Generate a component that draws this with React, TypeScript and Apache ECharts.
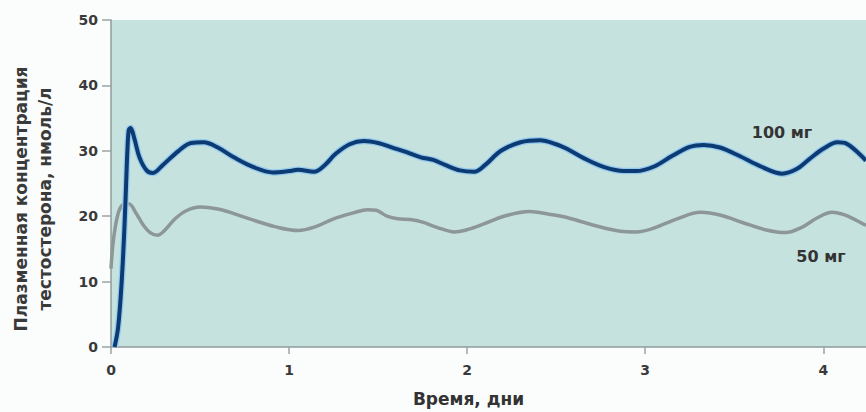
import React, { useEffect, useRef } from "react";
import * as echarts from "echarts";

const xTicks = [0, 1, 2, 3, 4];
const yTicks = [0, 10, 20, 30, 40, 50];
const seriesNames = ["100 мг", "50 мг"];

const dose100: [number, number][] = [
  [0.02, 0], [0.04, 3], [0.06, 10], [0.075, 18], [0.085, 25], [0.092, 30], [0.1, 33.2], [0.11, 33.5],
  [0.13, 32], [0.16, 29], [0.2, 27], [0.235, 26.6], [0.29, 27.8], [0.38, 30], [0.45, 31.2], [0.52, 31.3],
  [0.6, 30.5], [0.69, 29], [0.8, 27.5], [0.91, 26.7], [1.0, 26.9], [1.05, 27.1], [1.14, 26.8], [1.2, 27.8],
  [1.26, 29.5], [1.34, 31], [1.42, 31.5], [1.5, 31.2], [1.58, 30.5], [1.66, 29.8], [1.74, 29], [1.81, 28.6],
  [1.88, 27.8], [1.96, 27], [2.04, 26.8], [2.1, 27.8], [2.19, 30], [2.3, 31.3], [2.41, 31.6], [2.5, 31],
  [2.56, 30.3], [2.66, 28.8], [2.77, 27.5], [2.88, 26.9], [2.95, 26.9], [3.05, 27.6], [3.15, 29.2],
  [3.25, 30.6], [3.33, 30.9], [3.42, 30.5], [3.53, 29.2], [3.65, 27.6], [3.77, 26.5], [3.85, 27.2],
  [3.92, 28.7], [4.0, 30.3], [4.08, 31.3], [4.13, 31.1], [4.2, 29.6], [4.24, 28.5],
];

const dose50: [number, number][] = [
  [0, 12], [0.01, 15.5], [0.025, 18.5], [0.045, 20.8], [0.07, 21.8], [0.1, 21.9], [0.14, 20.5],
  [0.18, 18.7], [0.22, 17.5], [0.26, 17.1], [0.3, 17.8], [0.36, 19.6], [0.42, 20.8], [0.5, 21.4],
  [0.6, 21.1], [0.69, 20.4], [0.8, 19.4], [0.92, 18.4], [1.05, 17.8], [1.15, 18.4], [1.25, 19.6],
  [1.36, 20.5], [1.44, 21.0], [1.49, 20.9], [1.55, 20.0], [1.61, 19.6], [1.68, 19.5], [1.75, 19.1],
  [1.83, 18.3], [1.93, 17.6], [2.02, 18.1], [2.11, 19.0], [2.22, 20.1], [2.35, 20.7], [2.46, 20.3],
  [2.56, 19.8], [2.7, 18.7], [2.86, 17.7], [2.95, 17.6], [3.05, 18.2], [3.18, 19.6], [3.31, 20.6],
  [3.43, 20.1], [3.55, 19.0], [3.68, 17.9], [3.79, 17.5], [3.88, 18.3], [3.97, 19.8], [4.05, 20.6],
  [4.12, 20.2], [4.19, 19.3], [4.24, 18.6],
];

const FONT = "'DejaVu Sans', 'Open Sans', sans-serif";

export default function App() {
  const ref = useRef<HTMLDivElement>(null);
  useEffect(() => {
    document.body.style.margin = "0";
    const chart = echarts.init(ref.current!, null, { renderer: "svg" });
    chart.setOption({
      animation: false,
      backgroundColor: "#fbfdfd",
      grid: {
        left: 111,
        right: 0,
        top: 20,
        bottom: 62,
        show: true,
        backgroundColor: "#c5e2df",
        borderWidth: 0,
      },
      xAxis: {
        type: "value",
        min: 0,
        max: 4.24,
        interval: 1,
        axisLine: { show: true, lineStyle: { color: "#8e9a9a", width: 1.5 } },
        axisTick: { show: true, length: 7, lineStyle: { color: "#9aa3a3", width: 1.5 } },
        axisLabel: {
          showMaxLabel: false,
          margin: 16,
          color: "#3a3a3a",
          fontFamily: FONT,
          fontWeight: 700,
          fontSize: 14,
          formatter: (v: number) => (xTicks.includes(v) ? String(v) : ""),
        },
        splitLine: { show: false },
        name: "Время, дни",
        nameLocation: "middle",
        nameGap: 43,
        nameTextStyle: {
          color: "#333",
          fontFamily: FONT,
          fontWeight: 700,
          fontSize: 17,
          padding: [0, 40, 0, 0],
        },
      },
      yAxis: {
        type: "value",
        min: 0,
        max: 50,
        interval: 10,
        axisLine: { show: true, lineStyle: { color: "#8e9a9a", width: 1.5 } },
        axisTick: { show: true, length: 9, lineStyle: { color: "#9aa3a3", width: 1.5 } },
        axisLabel: {
          margin: 13,
          color: "#3a3a3a",
          fontFamily: FONT,
          fontWeight: 700,
          fontSize: 14,
          formatter: (v: number) => (yTicks.includes(v) ? String(v) : ""),
        },
        splitLine: { show: false },
      },
      graphic: [
        {
          type: "text",
          x: 33,
          y: 199,
          rotation: Math.PI / 2,
          style: {
            text: "Плазменная концентрация\nтестостерона, нмоль/л",
            fill: "#3a3a3a",
            font: `700 17px ${FONT}`,
            lineHeight: 24,
            align: "center",
            verticalAlign: "middle",
          },
        },
        {
          type: "text",
          x: 782,
          y: 132,
          style: {
            text: seriesNames[0],
            fill: "#333",
            font: `700 16px ${FONT}`,
            align: "center",
            verticalAlign: "middle",
          },
        },
        {
          type: "text",
          x: 821,
          y: 256,
          style: {
            text: seriesNames[1],
            fill: "#333",
            font: `700 16px ${FONT}`,
            align: "center",
            verticalAlign: "middle",
          },
        },
      ],
      series: [
        {
          name: seriesNames[1],
          type: "line",
          data: dose50,
          smooth: 0.35,
          showSymbol: false,
          lineStyle: { color: "#8d9797", width: 3.5 },
          z: 2,
        },
        {
          name: seriesNames[0] + " halo",
          type: "line",
          data: dose100,
          smooth: 0.35,
          showSymbol: false,
          lineStyle: { color: "#94c9ee", width: 6.5 },
          z: 3,
          silent: true,
        },
        {
          name: seriesNames[0],
          type: "line",
          data: dose100,
          smooth: 0.35,
          showSymbol: false,
          lineStyle: { color: "#0c3a73", width: 4 },
          z: 4,
        },
      ],
    });
    return () => chart.dispose();
  }, []);
  return <div ref={ref} style={{ position: "absolute", left: 0, top: 0, width: 866, height: 412 }} />;
}
